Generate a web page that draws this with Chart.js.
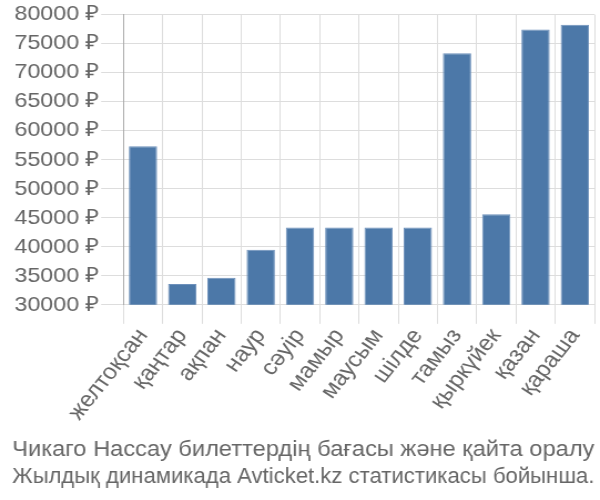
<html>
    <head>
        <script src="https://cdn.jsdelivr.net/npm/chart.js@4"></script>
        <style>
            body { margin: 0; background: #fff; overflow: hidden; }
            /* the reference text is a little wide, so the chart is drawn narrower and stretched */
            .chart-container { position: relative; width: 541px; height: 500px; transform: scaleX(1.109); transform-origin: 0 0; }
        </style>
    </head>

    <body>

        <div class="chart-container">
            <canvas id="myChart"></canvas>
        </div>

        <script>
            const months = ['желтоқсан', 'қаңтар', 'ақпан', 'наур', 'сәуір', 'мамыр', 'маусым', 'шілде', 'тамыз', 'қыркүйек', 'қазан', 'қараша'];
            const prices = [57300, 33600, 34650, 39500, 43300, 43300, 43300, 43300, 73350, 45600, 77450, 78250];
            const titleLines = ['Чикаго Нассау билеттердің бағасы және қайта оралу', 'Жылдық динамикада Avticket.kz статистикасы бойынша.'];

            Chart.defaults.font.family = '"Liberation Sans", Arial, sans-serif';
            Chart.defaults.color = '#666';

            const ctx = document.getElementById('myChart').getContext('2d');
            const myChart = new Chart(ctx, {
                type: 'bar',
                data: {
                    labels: months,
                    datasets: [{
                        data: prices,
                        backgroundColor: '#4c78a8',
                        borderColor: '#6d90bb',
                        borderWidth: 1,
                        barPercentage: 0.72,
                        categoryPercentage: 1
                    }]
                },
                options: {
                    responsive: true,
                    maintainAspectRatio: false,
                    animation: false,
                    layout: { padding: { left: 11, right: 5, top: 4, bottom: 0 } },
                    plugins: {
                        legend: { display: false },
                        tooltip: { enabled: false },
                        title: {
                            display: true,
                            position: 'bottom',
                            text: titleLines,
                            color: '#666',
                            font: { size: 22, weight: 'normal' },
                            padding: { top: 12, bottom: 10 },
                            lineHeight: 1.36
                        }
                    },
                    scales: {
                        x: {
                            grid: { color: '#ddd', tickLength: 19, offset: true },
                            border: { color: '#ddd' },
                            ticks: { font: { size: 22 }, autoSkip: false, maxRotation: 54, minRotation: 54, padding: 0 }
                        },
                        y: {
                            min: 30000,
                            max: 80000,
                            grid: { color: '#ddd', tickLength: 20 },
                            border: { color: '#aaa' },
                            ticks: {
                                stepSize: 5000,
                                font: { size: 21 },
                                padding: 2,
                                callback: v => v + ' ₽'
                            }
                        }
                    }
                }
            });
        </script>
    </body>
</html>
